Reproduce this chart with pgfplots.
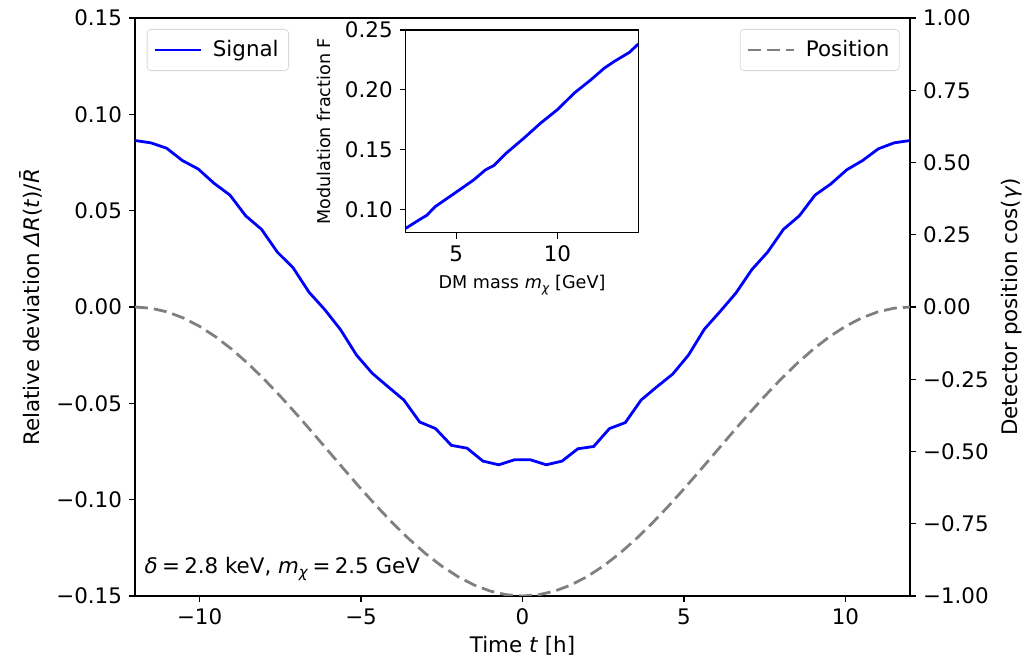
\documentclass[border=0pt]{standalone}
\usepackage{pgfplots}
\pgfplotsset{compat=1.18}
\usepackage{fontspec}
\setmainfont{DejaVu Sans}
\newcommand{\fs}{\fontsize{10.7}{12.5}\selectfont}
\newcommand{\fsi}{\fontsize{8.8}{10.5}\selectfont}
\definecolor{mplgray}{RGB}{128,128,128}
\begin{document}
\begin{tikzpicture}
\useasboundingbox (-67.5pt,-33pt) rectangle (450pt,298pt);
\begin{axis}[
  at={(0pt,0pt)}, anchor=south west,
  scale only axis, width=387.5pt, height=289pt,
  xmin=-12, xmax=12, ymin=-0.15, ymax=0.15,
  xtick={-10,-5,0,5,10},
  xticklabels={−10,−5,0,5,10},
  ytick={-0.15,-0.10,-0.05,0,0.05,0.10,0.15},
  yticklabels={−0.15,−0.10,−0.05,0.00,0.05,0.10,0.15},
  xtick pos=left, ytick pos=left,
  tick align=outside, major tick length=3pt,
  tick style={black, line width=0.6pt},
  axis line style={line width=0.6pt},
  tick label style={font=\fs},
  xlabel={Time \textit{t} [h]},
  ylabel={Relative deviation \textit{ΔR}(\textit{t})/\textit{\={R}}},
  every axis x label/.style={at={(axis description cs:0.5,-0.0865)}, anchor=center, font=\fs},
  every axis y label/.style={at={(axis description cs:-0.134,0.5)}, rotate=90, anchor=center, font=\fs},
  legend style={at={(0.0151,0.981)}, anchor=north west, draw=black!15, rounded corners=2pt,
    fill=white, font=\fs, inner xsep=3pt, inner ysep=3.5pt,
    /tikz/every odd column/.append style={column sep=3.5pt}},
  legend image code/.code={\draw[#1] (0pt,0pt) -- (23pt,0pt);},
  legend cell align=left,
]
\addplot[blue, line width=1.4pt] coordinates {
(-12.000,0.0864) (-11.510,0.0852) (-11.020,0.0824) (-10.531,0.0760) (-10.041,0.0716)
(-9.551,0.0642) (-9.061,0.0581) (-8.571,0.0473) (-8.082,0.0403) (-7.592,0.0285)
(-7.102,0.0203) (-6.612,0.0077) (-6.122,-0.0014) (-5.633,-0.0118) (-5.143,-0.0249)
(-4.653,-0.0344) (-4.163,-0.0414) (-3.673,-0.0483) (-3.184,-0.0597) (-2.694,-0.0631)
(-2.204,-0.0718) (-1.714,-0.0733) (-1.224,-0.0800) (-0.735,-0.0819) (-0.245,-0.0793)
(0.245,-0.0793) (0.735,-0.0819) (1.224,-0.0800) (1.714,-0.0736) (2.204,-0.0724)
(2.694,-0.0631) (3.184,-0.0600) (3.673,-0.0483) (4.163,-0.0414) (4.653,-0.0348)
(5.143,-0.0249) (5.633,-0.0115) (6.122,-0.0023) (6.612,0.0073) (7.102,0.0194)
(7.592,0.0285) (8.082,0.0403) (8.571,0.0473) (9.061,0.0581) (9.551,0.0639)
(10.041,0.0712) (10.531,0.0760) (11.020,0.0821) (11.510,0.0852) (12.000,0.0864)
};
\addlegendentry{Signal}
\node[anchor=west, font=\fs, inner sep=0pt] at (rel axis cs:0.012,0.047)
  {\textit{δ}\hspace{0.2em}=\hspace{0.2em}2.8 keV, \textit{m}\raisebox{-0.4ex}{\fontsize{7.5}{7.5}\selectfont\textit{χ}}\hspace{0.2em}=\hspace{0.2em}2.5 GeV};
\end{axis}
\begin{axis}[
  at={(0pt,0pt)}, anchor=south west,
  scale only axis, width=387.5pt, height=289pt,
  xmin=-12, xmax=12, ymin=-1, ymax=1,
  axis x line=none, axis y line*=right,
  ytick={-1,-0.75,-0.5,-0.25,0,0.25,0.5,0.75,1},
  yticklabels={−1.00,−0.75,−0.50,−0.25,0.00,0.25,0.50,0.75,1.00},
  ytick pos=right,
  tick align=outside, major tick length=3pt,
  tick style={black, line width=0.6pt},
  axis line style={line width=0.6pt},
  tick label style={font=\fs},
  ylabel={Detector position cos(\textit{γ})},
  every axis y label/.style={at={(axis description cs:1.131,0.5)}, rotate=90, anchor=center, font=\fs},
  legend style={at={(0.9867,0.981)}, anchor=north east, draw=black!15, rounded corners=2pt,
    fill=white, font=\fs, inner xsep=3pt, inner ysep=3.5pt,
    /tikz/every odd column/.append style={column sep=3.5pt}},
  legend image code/.code={\draw[#1] (0pt,0pt) -- (23pt,0pt);},
  legend cell align=left,
]
\addplot[mplgray, line width=1.4pt, dash pattern=on 6.5pt off 3pt] coordinates {
(-12,0) (-11.5,-0.00428) (-11,-0.01704) (-10.5,-0.03806) (-10,-0.06699) (-9.5,-0.10332)
(-9,-0.14645) (-8.5,-0.19562) (-8,-0.25) (-7.5,-0.30866) (-7,-0.37059) (-6.5,-0.43474)
(-6,-0.5) (-5.5,-0.56526) (-5,-0.62941) (-4.5,-0.69134) (-4,-0.75) (-3.5,-0.80438)
(-3,-0.85355) (-2.5,-0.89668) (-2,-0.93301) (-1.5,-0.96194) (-1,-0.98296) (-0.5,-0.99572)
(0,-1) (0.5,-0.99572) (1,-0.98296) (1.5,-0.96194) (2,-0.93301) (2.5,-0.89668)
(3,-0.85355) (3.5,-0.80438) (4,-0.75) (4.5,-0.69134) (5,-0.62941) (5.5,-0.56526)
(6,-0.5) (6.5,-0.43474) (7,-0.37059) (7.5,-0.30866) (8,-0.25) (8.5,-0.19562)
(9,-0.14645) (9.5,-0.10332) (10,-0.06699) (10.5,-0.03806) (11,-0.01704) (11.5,-0.00428) (12,0)
};
\addlegendentry{Position}
\end{axis}
\begin{axis}[
  at={(135.35pt,181.65pt)}, anchor=south west,
  scale only axis, width=116.3pt, height=101.35pt,
  xmin=2.5, xmax=14, ymin=0.0805, ymax=0.25,
  xtick={5,10}, xticklabels={5,10},
  ytick={0.10,0.15,0.20,0.25},
  yticklabels={0.10,0.15,0.20,0.25},
  xtick pos=left, ytick pos=left,
  tick align=outside, major tick length=3pt,
  tick style={black, line width=0.6pt},
  axis line style={line width=0.6pt},
  axis background/.style={fill=white},
  tick label style={font=\fs},
  xlabel={DM mass \textit{m}\raisebox{-0.4ex}{\fontsize{6.2}{6.2}\selectfont\textit{χ}} [GeV]},
  ylabel={Modulation fraction F},
  every axis x label/.style={at={(axis description cs:0.5,-0.26)}, anchor=center, font=\fsi},
  every axis y label/.style={at={(axis description cs:-0.35,0.5)}, rotate=90, anchor=center, font=\fsi},
]
\addplot[blue, line width=1.4pt] coordinates {
(2.5,0.0841) (3.21,0.0917) (3.54,0.0950) (3.96,0.1023) (5.03,0.1148) (5.86,0.1246)
(6.44,0.1330) (6.85,0.1366) (7.43,0.1464) (8.34,0.1595) (9.17,0.1721) (10.03,0.1838)
(10.83,0.1972) (11.66,0.2084) (12.32,0.2181) (12.81,0.2237) (13.56,0.2313) (14.0,0.2383)
};
\end{axis}
\end{tikzpicture}
\end{document}
